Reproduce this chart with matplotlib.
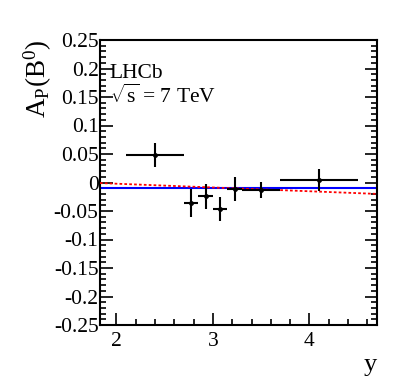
import numpy as np
import matplotlib
matplotlib.use("Agg")
import matplotlib.pyplot as plt
from matplotlib.ticker import MultipleLocator

plt.rcParams['font.family'] = ['Liberation Serif', 'DejaVu Serif']
plt.rcParams['mathtext.fontset'] = 'custom'
plt.rcParams['mathtext.rm'] = 'Liberation Serif'
plt.rcParams['mathtext.it'] = 'Liberation Serif'

# measured points: rapidity bin centres, half widths, asymmetry, error
y_centre = [2.40, 2.775, 2.925, 3.075, 3.225, 3.50, 4.10]
y_halfwidth = [0.30, 0.075, 0.075, 0.075, 0.075, 0.20, 0.40]
asym = [0.049, -0.036, -0.024, -0.047, -0.012, -0.013, 0.004]
asym_err = [0.021, 0.025, 0.022, 0.021, 0.021, 0.014, 0.019]

# fitted constant (blue) and linear fit (red) end values
const_fit = -0.010
lin_x = [1.83, 4.70]
lin_y = [-0.001, -0.020]

fig = plt.figure(figsize=(3.99, 3.88), dpi=100)
ax = fig.add_axes([100/399, 1 - 325/388, 277/399, 285/388])

ax.axhline(const_fit, color='blue', lw=1.5, zorder=2)
ax.plot(lin_x, lin_y, color='red', lw=1.3, ls=(0, (1.5, 1.2)), zorder=3)
ax.errorbar(y_centre, asym, xerr=y_halfwidth, yerr=asym_err, fmt='o', ms=2.5,
            color='black', ecolor='black', elinewidth=1.5, capsize=0, zorder=4)

ax.set_xlim(1.83, 4.70)
ax.set_ylim(-0.25, 0.25)
ax.xaxis.set_major_locator(MultipleLocator(1))
ax.xaxis.set_minor_locator(MultipleLocator(0.2))
ax.yaxis.set_major_locator(MultipleLocator(0.05))
ax.yaxis.set_minor_locator(MultipleLocator(0.01))
ax.set_yticks(np.round(np.arange(-0.25, 0.2501, 0.05), 2))
ax.set_yticklabels(['-0.25', '-0.2', '-0.15', '-0.1', '-0.05', '0', '0.05',
                    '0.1', '0.15', '0.2', '0.25'])
ax.tick_params(which='both', direction='in', right=True, top=False,
               labelsize=15.5, width=1.2)
ax.tick_params(which='major', length=9)
ax.tick_params(which='minor', length=4.5)
ax.tick_params(axis='x', pad=5)
ax.tick_params(axis='y', pad=1)
for s in ax.spines.values():
    s.set_linewidth(1.5)

ax.set_ylabel(r'$\mathrm{A_P(B^0)}$', fontsize=19.5, loc='top', labelpad=0)
ax.set_xlabel('y', fontsize=19, loc='right', labelpad=2)

ax.text(0.035, 0.865, 'LHCb', transform=ax.transAxes, fontsize=15.5)
ax.text(0.035, 0.78, r'$\mathrm{\sqrt{s}}$ = 7 TeV', transform=ax.transAxes, fontsize=15.5)

fig.savefig('out.png', dpi=100)
